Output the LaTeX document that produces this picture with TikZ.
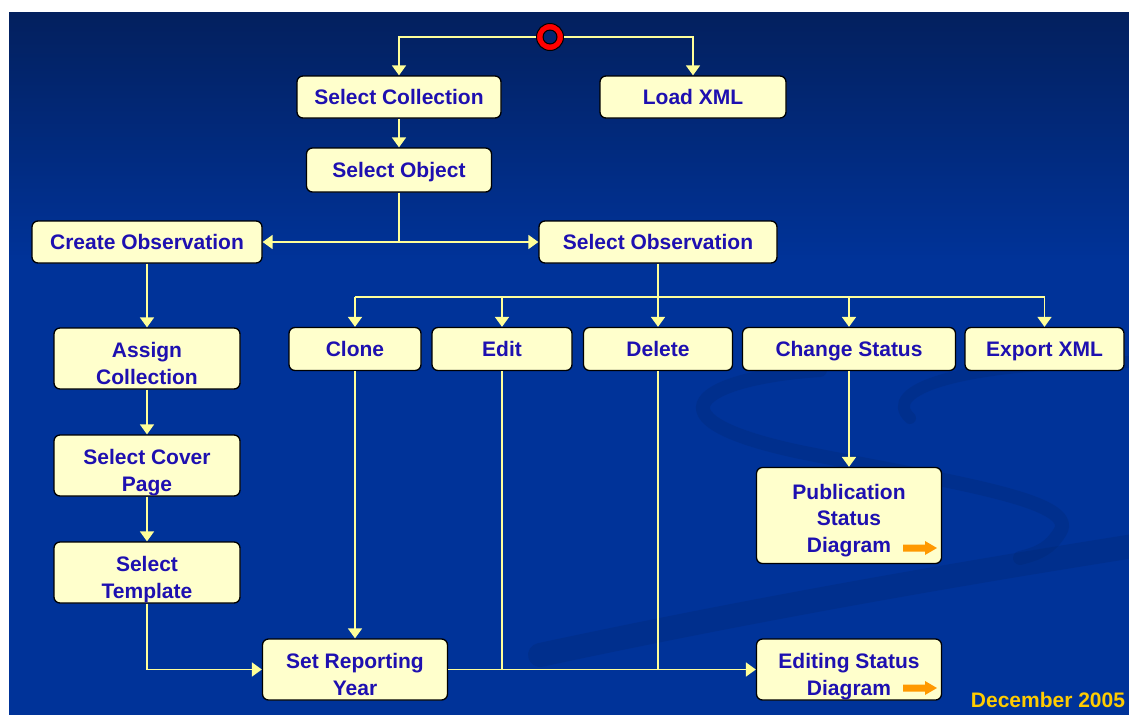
\documentclass[tikz,border=0pt]{standalone}
\usepackage{fontspec}
\newfontfamily\lab{Liberation Sans}
\usetikzlibrary{arrows.meta}
\definecolor{bgtop}{HTML}{03205E}
\definecolor{bgbot}{HTML}{003399}
\definecolor{boxfill}{HTML}{FFFFCC}
\definecolor{boxtext}{HTML}{1E10B0}
\definecolor{linkcol}{HTML}{FFFF99}
\definecolor{orng}{HTML}{FF9900}
\definecolor{gold}{HTML}{FFCC00}
\definecolor{swooshcol}{HTML}{00276F}
\newcommand\toptwo{\rule{0pt}{29pt}}
\newcommand\topthree{\rule{0pt}{25pt}}
\newcommand\botln{\rule[-5pt]{0pt}{5pt}}
\begin{document}
\begin{tikzpicture}[x=1pt,y=-1pt,
  box/.style={draw=black, line width=1.3pt, fill=boxfill, rounded corners=6pt,
    inner sep=0pt, align=center, text=boxtext,
    font=\lab\bfseries\fontsize{21}{27}\selectfont},
  oneline/.style={box, text height=15pt, text depth=0pt},
  link/.style={draw=linkcol, line width=1.8pt},
  arr/.style={link, -{Triangle[width=14pt,length=10pt]}},
  swoosh/.style={draw=swooshcol, opacity=0.27, line cap=round},
  oarrow/.pic={\fill[orng] (0,-3.5) -- (22,-3.5) -- (22,-7) -- (34,0) -- (22,7) -- (22,3.5) -- (0,3.5) -- cycle;}
]
\useasboundingbox (0,0) rectangle (1129,715);
% background
\fill[white] (0,0) rectangle (1129,715);
\shade[top color=bgtop, bottom color=bgbot] (9,12) rectangle (1129,261);
\fill[bgbot] (9,260) rectangle (1129,715);
\begin{scope}
  \clip (9,12) rectangle (1129,715);
  \draw[swoosh, line width=14pt] (820,370) .. controls (700,378) and (640,418) .. (800,452)
     .. controls (950,482) and (1080,500) .. (1060,532) .. controls (1050,548) and (1040,553) .. (1020,558);
  \draw[swoosh, line width=12pt] (1129,362) .. controls (960,362) and (880,390) .. (910,418);
  \draw[swoosh, line width=24pt] (540,655) .. controls (750,610) and (950,575) .. (1140,545);
\end{scope}

% start node
\node[circle, minimum size=27pt, inner sep=0pt, fill=red, draw=black, line width=1pt] (start) at (550,37) {};
\fill[black] (start.center) circle (7.5);
\fill[bgtop!70!bgbot] (start.center) circle (6.3);

% boxes
\node[oneline, minimum width=204pt, minimum height=42pt] (sc) at (399,97) {Select Collection};
\node[oneline, minimum width=186pt, minimum height=42pt] (lx) at (693,97) {Load XML};
\node[oneline, minimum width=185pt, minimum height=44pt] (so) at (399,170) {Select Object};
\node[oneline, minimum width=230pt, minimum height=42pt] (co) at (147,242) {Create Observation};
\node[oneline, minimum width=238pt, minimum height=42pt] (sobs) at (658,242) {Select Observation};
\node[oneline, minimum width=132pt, minimum height=43pt] (clone) at (355,349) {Clone};
\node[oneline, minimum width=140pt, minimum height=43pt] (edit) at (502,349) {Edit};
\node[oneline, minimum width=149pt, minimum height=43pt] (del) at (658,349) {Delete};
\node[oneline, minimum width=213pt, minimum height=43pt] (cs) at (849,349) {Change Status};
\node[oneline, minimum width=159pt, minimum height=43pt] (ex) at (1044.5,349) {Export XML};
\node[box, minimum width=186pt, minimum height=61pt] (ac) at (147,358.5) {\toptwo Assign\\Collection\botln};
\node[box, minimum width=186pt, minimum height=61pt] (cp) at (147,465.5) {\toptwo Select Cover\\Page\botln};
\node[box, minimum width=186pt, minimum height=61pt] (tp) at (147,572.5) {\toptwo Select\\Template\botln};
\node[box, minimum width=185pt, minimum height=61pt] (sry) at (355,669.5) {\toptwo Set Reporting\\Year\botln};
\node[box, minimum width=185pt, minimum height=96pt, font=\lab\bfseries\fontsize{21}{26.5}\selectfont] (psd) at (849,515.5) {\topthree Publication\\Status\\Diagram\botln};
\node[box, minimum width=185pt, minimum height=61pt] (esd) at (849,669.5) {\toptwo Editing Status\\Diagram\botln};

\pic at (903,548) {oarrow};
\pic at (903,688) {oarrow};

\node[text=gold, font=\lab\bfseries\fontsize{21}{26}\selectfont, inner sep=0pt] (date) at (1048,699.5) {December 2005};

% connectors
\draw[arr] (start.west) -| (sc.north);
\draw[arr] (start.east) -| (lx.north);
\draw[arr] (sc.south) -- (so.north);
\coordinate (j1) at (so.south |- co.east);
\draw[link] (so.south) -- (j1);
\draw[arr] (j1) -- (co.east);
\draw[arr] (j1) -- (sobs.west);
\draw[arr] (co.south) -- (ac.north);
\draw[arr] (ac.south) -- (cp.north);
\draw[arr] (cp.south) -- (tp.north);
\draw[arr] (tp.south) |- (sry.west);
\coordinate (busy) at (0,297);
\draw[link] (sobs.south) -- (sobs.south |- busy);
\draw[link] (clone.north |- busy) -- (ex.north |- busy);
\draw[arr] (clone.north |- busy) -- (clone.north);
\draw[arr] (edit.north |- busy) -- (edit.north);
\draw[arr] (del.north |- busy) -- (del.north);
\draw[arr] (cs.north |- busy) -- (cs.north);
\draw[arr] (ex.north |- busy) -- (ex.north);
\draw[arr] (clone.south) -- (sry.north);
\draw[arr] (cs.south) -- (psd.north);
\draw[arr] (sry.east) -- (esd.west);
\draw[link] (edit.south) -- (edit.south |- sry.east);
\draw[link] (del.south) -- (del.south |- sry.east);
\end{tikzpicture}
\end{document}
